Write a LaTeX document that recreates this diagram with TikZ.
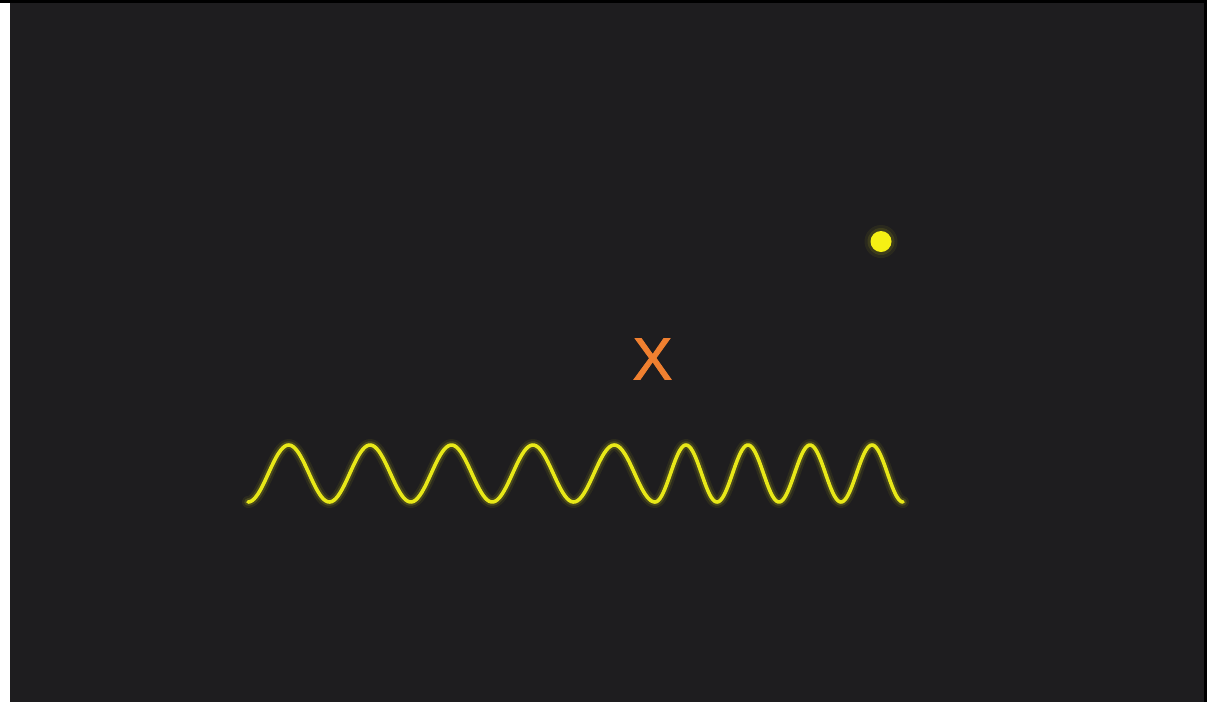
\documentclass[tikz,border=0pt]{standalone}
\usepackage{fontspec}
\setmainfont{Liberation Sans}
\newfontfamily\xmarkfont[FakeBold=1.6]{Liberation Sans}
\definecolor{bgdark}{RGB}{30,29,31}
\definecolor{waveyellow}{RGB}{232,232,24}
\definecolor{dotyellow}{RGB}{245,240,20}
\definecolor{xorange}{RGB}{240,128,48}
\tikzset{
  glow/.style={draw=waveyellow, line width=12pt, opacity=0.07, line cap=round, line join=round},
  glowmid/.style={draw=waveyellow, line width=7.5pt, opacity=0.16, line cap=round, line join=round},
  waveline/.style={draw=waveyellow, line width=3.6pt, line cap=round, line join=round},
  marklabel/.style={text=xorange, font=\xmarkfont\fontsize{59}{59}\selectfont, inner sep=0pt},
  dotnode/.style={circle, fill=dotyellow, minimum size=21pt, inner sep=0pt},
  dotglowa/.style={circle, fill=dotyellow, opacity=0.06, minimum size=33pt, inner sep=0pt},
  dotglowb/.style={circle, fill=dotyellow, opacity=0.10, minimum size=27pt, inner sep=0pt}
}
\begin{document}
\begin{tikzpicture}[x=1pt,y=-1pt]
\useasboundingbox (0,0) rectangle (1207,702);
\fill[black] (0,0) rectangle (1207,702);
\fill[white] (0,2.5) rectangle (10,702);
\fill[bgdark] (10,2.5) rectangle (1203.5,702);
% wave
\foreach \st in {glow,glowmid,waveline}{
  \draw[\st] plot[smooth, samples=200, domain=0:1800, variable=\t]
      ({248+\t/360*81.4},{473.5+28.5*cos(\t)})
    -- plot[smooth, samples=160, domain=0:1440, variable=\t]
      ({655+\t/360*62},{473.5+28.5*cos(\t)});
}
% dot
\node[dotglowa] (dotga) at (881,241.5) {};
\node[dotglowb] (dotgb) at (881,241.5) {};
\node[dotnode] (dot) at (881,241.5) {};
% X label
\node[marklabel] (xmark) at (652.5,359) {X};
\end{tikzpicture}
\end{document}
